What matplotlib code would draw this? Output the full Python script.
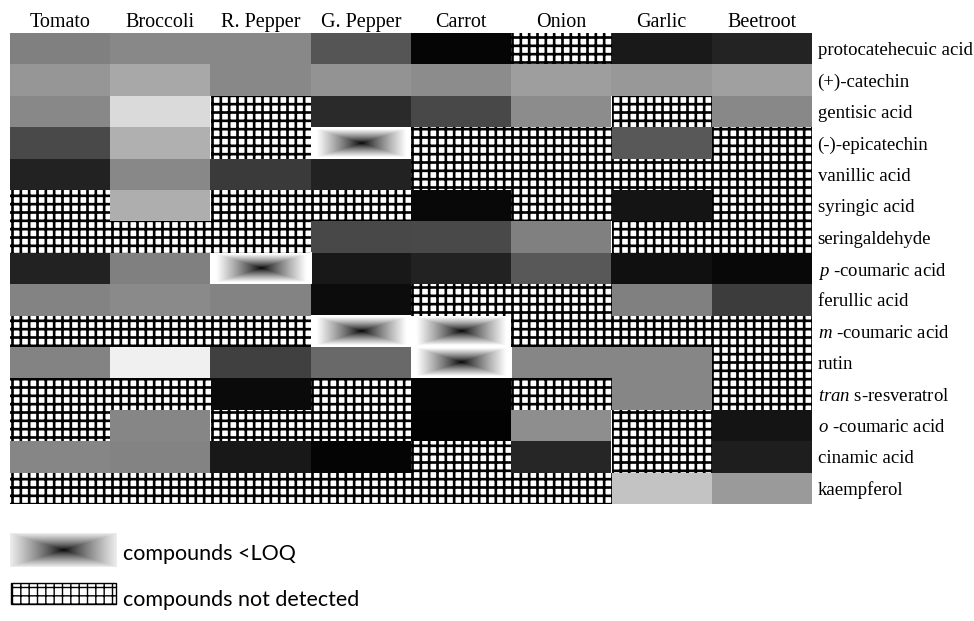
import numpy as np
import matplotlib.pyplot as plt
from matplotlib.patches import Rectangle

plt.rcParams['font.family'] = ['Liberation Serif', 'DejaVu Serif']
plt.rcParams['mathtext.fontset'] = 'custom'
plt.rcParams['mathtext.rm'] = 'Liberation Serif'
plt.rcParams['mathtext.it'] = 'Liberation Serif:italic'
plt.rcParams['hatch.linewidth'] = 1.9

foods = ['Tomato', 'Broccoli', 'R. Pepper', 'G. Pepper', 'Carrot', 'Onion', 'Garlic', 'Beetroot']
compounds = ['protocatehecuic acid', '(+)-catechin', 'gentisic acid', '(-)-epicatechin',
             'vanillic acid', 'syringic acid', 'seringaldehyde', r'$p$ -coumaric acid',
             'ferullic acid', r'$m$ -coumaric acid', 'rutin', r'$tran$ s-resveratrol',
             r'$o$ -coumaric acid', 'cinamic acid', 'kaempferol']

# grey level per cell (0 black .. 255 white); ND = not detected, LOQ = below LOQ
ND, LOQ = 'nd', 'loq'
shade = [
    [128, 136, 136, 85, 5, ND, 25, 35],
    [150, 168, 136, 148, 140, 158, 152, 160],
    [136, 218, ND, 42, 72, 140, ND, 136],
    [74, 176, ND, LOQ, ND, ND, 88, ND],
    [34, 136, 58, 34, ND, ND, ND, ND],
    [ND, 174, ND, ND, 8, ND, 20, ND],
    [ND, ND, ND, 72, 74, 128, ND, ND],
    [34, 128, LOQ, 24, 34, 88, 16, 8],
    [132, 138, 132, 12, ND, ND, 128, 60],
    [ND, ND, ND, LOQ, LOQ, ND, ND, ND],
    [132, 240, 64, 106, LOQ, 134, 134, ND],
    [ND, ND, 10, ND, 4, ND, 134, ND],
    [ND, 134, ND, ND, 2, 142, ND, 20],
    [134, 132, 24, 4, ND, 38, ND, 30],
    [ND, ND, ND, ND, ND, ND, 196, 154],
]

nrow, ncol = len(compounds), len(foods)
grey = np.ma.masked_all((nrow, ncol))
for i, row in enumerate(shade):
    for j, v in enumerate(row):
        if not isinstance(v, str):
            grey[i, j] = v

# rectangular "from centre" gradient used for the <LOQ cells
u = np.linspace(-1, 1, 200)
v = np.linspace(-1, 1, 80)
U, V = np.meshgrid(u, v)
box = np.maximum(np.abs(U), np.abs(V))
cell_grad = np.clip(box * 1.12, 0, 1) ** 0.8
legend_grad = 0.93 * box ** 0.75

fig = plt.figure(figsize=(9.74, 6.21), dpi=100)
ax = fig.add_axes([10 / 974, 1 - 504 / 621, 802 / 974, 471 / 621])
ax.imshow(grey, cmap='gray', vmin=0, vmax=255, aspect='auto',
          extent=(0, ncol, nrow, 0), interpolation='nearest')

for i, row in enumerate(shade):
    for j, v in enumerate(row):
        if v == ND:
            ax.add_patch(Rectangle((j, i), 1, 1, facecolor='white', edgecolor='black',
                                   hatch='++', linewidth=0))
        elif v == LOQ:
            ax.imshow(cell_grad, cmap='gray', vmin=0, vmax=1, aspect='auto',
                      extent=(j, j + 1, i + 1, i), interpolation='bilinear')

ax.set_xlim(0, ncol)
ax.set_ylim(nrow, 0)
ax.set_xticks(np.arange(ncol) + 0.5)
ax.set_xticklabels(foods, fontsize=14.5)
ax.xaxis.tick_top()
ax.set_yticks(np.arange(nrow) + 0.5)
ax.set_yticklabels(compounds, fontsize=13.5)
ax.yaxis.tick_right()
ax.tick_params(axis='x', length=0, pad=0.5)
ax.tick_params(axis='y', length=0, pad=4)
for s in ax.spines.values():
    s.set_visible(False)

# legend drawn in pixel coordinates
lg = fig.add_axes([0, 0, 1, 1])
lg.set_xlim(0, 974)
lg.set_ylim(621, 0)
lg.axis('off')
lg.patch.set_alpha(0)
lg.imshow(legend_grad, cmap='gray', vmin=0, vmax=1, aspect='auto',
          extent=(10, 117, 567, 533), interpolation='bilinear')
nd_key = Rectangle((11, 583), 105, 21, facecolor='white', edgecolor='black',
                   hatch='++', linewidth=1)
if hasattr(nd_key, 'set_hatch_linewidth'):
    nd_key.set_hatch_linewidth(1.0)
lg.add_patch(nd_key)
lg.text(123, 560, 'compounds <LOQ', fontsize=15.5, family='Lato', va='baseline')
lg.text(123, 606, 'compounds not detected', fontsize=15.5, family='Lato', va='baseline')

fig.savefig('out.png', dpi=100)
